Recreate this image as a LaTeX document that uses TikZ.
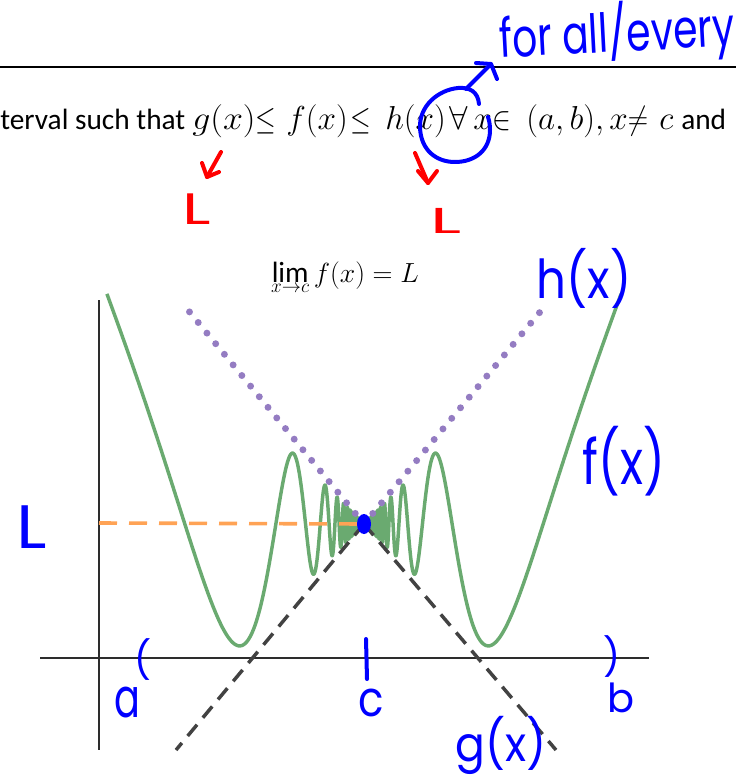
\documentclass[tikz,border=0pt]{standalone}
\usepackage{fontspec}
\setmainfont{Carlito}
\newfontfamily\hand{Poppins}
\definecolor{fgreen}{RGB}{106,170,112}
\definecolor{hpurple}{RGB}{148,124,194}
\definecolor{lorange}{RGB}{255,163,85}
\definecolor{gdark}{RGB}{66,66,66}
\definecolor{axisc}{RGB}{45,45,45}
\definecolor{pen}{RGB}{0,0,255}
\definecolor{redpen}{RGB}{255,0,0}
\tikzset{
  axisline/.style={draw=axisc, line width=1.6pt},
  fcurve/.style={draw=fgreen, line width=2.6pt, line join=round},
  hline/.style={draw=hpurple, line width=5.2pt, line cap=round, dash pattern=on 0pt off 10.3pt},
  gline/.style={draw=gdark, line width=2.6pt, dash pattern=on 11pt off 6.8pt},
  lline/.style={draw=lorange, line width=2.7pt, dash pattern=on 13.5pt off 9pt},
  bluepen/.style={draw=pen, line width=3pt, line cap=round, line join=round},
  redmark/.style={draw=redpen, line width=3pt, line cap=round, line join=round},
  hw/.style={text=pen, inner sep=0pt},
  hwred/.style={text=redpen, inner sep=0pt},
  txt/.style={anchor=base west, inner sep=0pt, font=\fontsize{22}{26}\selectfont},
  mth/.style={anchor=base west, inner sep=0pt, font=\fontsize{23.5}{27}\selectfont},
  rel/.style={anchor=base, inner sep=0pt, font=\fontsize{23.5}{27}\selectfont},
}
\begin{document}
\begin{tikzpicture}[x=0.75pt, y=-0.75pt]
\path[use as bounding box] (0,0) rectangle (736,777);
% top rule
\draw[line width=1.9pt] (0,67) -- (736,67);
% condition text
\node[txt] (t1) at (0,130) {terval such that};
\node[mth] (m1) at (192,130) {\scalebox{1.08}[1]{$g(x)$}};
\node[rel] (m2) at (266,130) {\scalebox{0.8}[1]{$\leq$}};
\node[mth] (m3) at (286,130) {$f(x)$};
\node[rel] (m4) at (361,130) {\scalebox{0.8}[1]{$\leq$}};
\node[mth] (m5) at (385,130) {$h(x)$};
\node[mth] (m6) at (449,130) {$\forall$};
\node[mth] (m7) at (473,130) {$x$};
\node[rel] (m8) at (502,130) {\scalebox{0.85}[1]{$\in$}};
\node[mth] (m9) at (526,130) {$(a,b),$};
\node[mth] (m10) at (609,130) {$x$};
\node[rel] (m11) at (638,130) {\scalebox{0.85}[1]{$\neq$}};
\node[mth] (m12) at (659,130) {$c$};
\node[txt] (t2) at (681,130) {and};
% limit
\node[anchor=base, inner sep=0pt, font=\fontsize{22}{26}\selectfont] (lim) at (345,282)
  {$\displaystyle\lim_{x\to c} f(x) = L$};
% axes
\coordinate (yb) at (99,300); \coordinate (ye) at (99,750);
\coordinate (xb) at (40,658); \coordinate (xe) at (649,658);
\draw[axisline] (yb) -- (ye);
\draw[axisline] (xb) -- (xe);
% key points
\coordinate (C) at (364,524);
\coordinate (Lstart) at (99,523);
\coordinate (hL) at (183,304); \coordinate (hR) at (545,306);
\coordinate (gL) at (176,750); \coordinate (gR) at (556,750);
% f(x)
\draw[fcurve] plot[domain=2.22:110, samples=1800, variable=\s]
  ({364-545/(\s-0.1)}, {524-545/(\s-0.1)*sin(\s r)*(1+0.12*(545/(\s-0.1)/255)^4)});
\draw[fcurve] plot[domain=2.22:110, samples=1800, variable=\s]
  ({364+545/(\s-0.1)}, {524-545/(\s-0.1)*sin(\s r)*(1+0.12*(545/(\s-0.1)/255)^4)});
\fill[fgreen] (358,517) -- (C) -- (358,531) -- cycle;
\fill[fgreen] (370,517) -- (C) -- (370,531) -- cycle;
% g(x)
\draw[gline] (C) -- (gL);
\draw[gline] (C) -- (gR);
% L
\draw[lline] (Lstart) -- (C);
% h(x)
\draw[hline] (C) -- (hL);
\draw[hline] (C) -- (hR);
% blue point
\fill[pen] (C) ellipse [x radius=7, y radius=10];
% handwritten annotations
\node[hw, anchor=base west, rotate=3, font=\hand\fontsize{31}{34}\selectfont] (forall) at (500,58) {\scalebox{0.95}[1.3]{for all/every}};
\draw[bluepen] (479,104) .. controls (478,92) and (470,87) .. (458,88)
  .. controls (438,90) and (419,106) .. (420,128)
  .. controls (421,150) and (436,162) .. (455,162)
  .. controls (475,162) and (490,150) .. (490,130)
  .. controls (490,124) and (489,120) .. (488,117);
\coordinate (arrS) at (466,89); \coordinate (arrT) at (491,64);
\draw[bluepen] (arrS) -- (arrT);
\draw[bluepen] (476,63) -- (arrT) -- (497,79);
% red arrows
\coordinate (r1s) at (221,152); \coordinate (r1t) at (207,177);
\draw[redmark] (r1s) -- (r1t);
\draw[redmark] (202,163) -- (r1t) -- (219,172);
\coordinate (r2s) at (415,153); \coordinate (r2t) at (428,183);
\draw[redmark] (r2s) -- (r2t);
\draw[redmark] (418,171) -- (r2t) -- (437,171);
\node[hwred, font=\hand\fontsize{33}{36}\selectfont] (L1) at (197,209) {\scalebox{1.5}[1]{L}};
\node[hwred, font=\hand\fontsize{27}{30}\selectfont] (L2) at (446,221) {\scalebox{2}[1]{L}};
% labels on graph
\node[hw, font=\hand\fontsize{35}{38}\selectfont] (hx) at (584,278) {\scalebox{1}[1.15]{h(x)}};
\node[hw, font=\hand\fontsize{36}{40}\selectfont] (fx) at (624,461) {\scalebox{1}[1.3]{f(x)}};
\node[hw, font=\hand\fontsize{33}{36}\selectfont] (gx) at (501,745) {\scalebox{1}[1.1]{g(x)}};
\node[hw, font=\hand\fontsize{46}{50}\selectfont] (Lb) at (32,527) {\scalebox{1.15}[1]{L}};
\node[hw, font=\hand\fontsize{28}{30}\selectfont] (pa) at (143,660) {(};
\node[hw, font=\hand\fontsize{28}{30}\selectfont] (pb) at (612,657) {)};
\draw[bluepen] (366,639) -- (367,679);
\node[hw, font=\hand\fontsize{41}{44}\selectfont] (la) at (127,703) {\scalebox{0.7}[1]{a}};
\node[hw, font=\hand\fontsize{37}{40}\selectfont] (lc) at (371,703) {\scalebox{0.85}[1]{c}};
\node[hw, font=\hand\fontsize{30}{33}\selectfont] (lb) at (621,698) {b};
\end{tikzpicture}
\end{document}
